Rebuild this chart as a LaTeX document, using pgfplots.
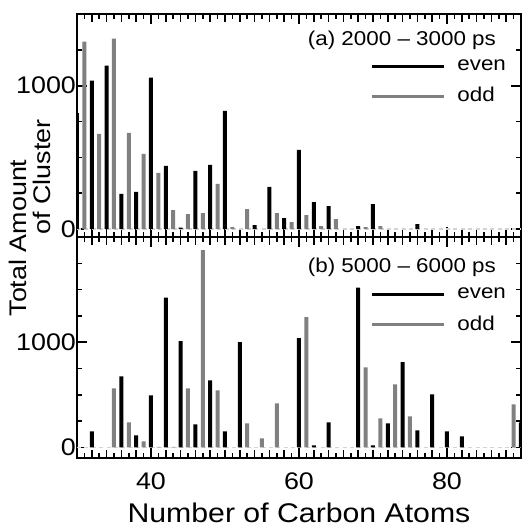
\documentclass[border=0pt]{standalone}
\usepackage{fontspec}
\setmainfont{Liberation Sans}[FakeStretch=1.12]
\usepackage{pgfplots}
\pgfplotsset{compat=1.18}
\definecolor{oddgray}{HTML}{808080}
\definecolor{zerogray}{HTML}{D4D4D4}

\pgfplotsset{
  panel/.style={
    width=222pt, scale only axis,
    xmin=30, xmax=90,
    axis line style={black, line width=1pt},
    tick style={black, line width=0.8pt},
    tick align=inside,
    major tick length=5pt, minor tick length=2.5pt,
    xtick={40,60,80}, minor xtick={31,33,...,89},
    extra x ticks={30,32,...,90}, extra x tick labels={},
    extra x tick style={major tick length=3.8pt},
    ytick={0,1000}, minor ytick={250,500,750,1250,1500,1750},
    tick label style={font=\fontsize{12}{14}\selectfont},
    yticklabel style={xshift=3pt},
    xticklabel style={yshift=-4pt},
    /pgf/number format/assume math mode=true,
    /pgf/number format/1000 sep={},
    legend style={draw=none, fill=none, font=\fontsize{10}{12}\selectfont,
                  inner sep=0pt, row sep=3pt, column sep=4pt, cells={anchor=west}},
    legend cell align=left,
  },
  evenbar/.style={ybar, bar shift=0pt, bar width=2pt, fill=black, draw=none},
  oddbar/.style={ybar, bar shift=0pt, bar width=2pt, fill=oddgray, draw=none},
  zeroline/.style={draw=zerogray, line width=0.8pt, dash pattern=on 2pt off 1.69pt, forget plot},
  legline/.style={legend image code/.code={\draw[##1] (0pt,0pt) -- (36pt,0pt);}},
}

\begin{document}
\begin{tikzpicture}

% (a) 2000 - 3000 ps
\begin{axis}[panel, at={(0,110.5pt)}, anchor=south west, height=111.5pt,
  ymin=-55, ymax=1500, xticklabels={},
  legend style={at={(axis description cs:0.976,0.815)}, anchor=north east}]
\addplot[zeroline] coordinates {(30,0) (90,0)};
\addplot[evenbar, forget plot] coordinates {
  (30,808) (32,1035) (34,1140) (36,245) (38,259) (40,1056) (42,441) (44,10)
  (46,406) (48,448) (50,825) (54,28) (56,294) (58,77) (60,552) (62,189)
  (64,161) (68,21) (70,175) (76,35) };
\addplot[oddbar, forget plot] coordinates {
  (31,1308) (33,664) (35,1329) (37,671) (39,524) (41,392) (43,133) (45,105)
  (47,112) (49,315) (51,14) (53,140) (57,112) (59,49) (61,98) (63,21)
  (65,70) (69,14) (71,21) };
\addlegendimage{legline, black, line width=1.5pt}
\addlegendentry{even}
\addlegendimage{legline, oddgray, line width=1.5pt}
\addlegendentry{odd}
\node[anchor=east, font=\fontsize{10}{12}\selectfont] at ([xshift=-9pt,yshift=-13pt]rel axis cs:1,1) {(a) 2000 – 3000 ps};
\end{axis}

% (b) 5000 - 6000 ps
\begin{axis}[panel, at={(0,0)}, anchor=south west, height=110.5pt,
  ymin=-100, ymax=2000,
  xlabel={Number of Carbon Atoms},
  xlabel style={font=\fontsize{13.5}{15}\selectfont, yshift=0.5pt},
  legend style={at={(axis description cs:0.976,0.79)}, anchor=north east}]
\addplot[zeroline] coordinates {(30,0) (90,0)};
\addplot[evenbar, forget plot] coordinates {
  (32,152) (36,676) (38,114) (40,495) (42,1423) (44,1010) (46,219) (48,638)
  (50,152) (52,1000) (60,1038) (62,19) (64,238) (68,1518) (70,19) (72,229)
  (74,810) (76,162) (78,505) (80,152) (82,105) (90,238) };
\addplot[oddbar, forget plot] coordinates {
  (35,562) (37,238) (39,57) (41,5) (43,5) (45,562) (47,1875) (49,543)
  (53,229) (55,86) (57,419) (61,1238) (69,762) (71,276) (73,600) (75,295)
  (89,410) };
\addlegendimage{legline, black, line width=1.5pt}
\addlegendentry{even}
\addlegendimage{legline, oddgray, line width=1.5pt}
\addlegendentry{odd}
\node[anchor=east, font=\fontsize{10}{12}\selectfont] at ([xshift=-9pt,yshift=-15pt]rel axis cs:1,1) {(b) 5000 – 6000 ps};
\end{axis}

\node[rotate=90, font=\fontsize{12}{14}\selectfont] at (-29.5pt,110pt) {Total Amount};
\node[rotate=90, font=\fontsize{12}{14}\selectfont] at (-17.5pt,140.5pt) {of Cluster};

\pgfresetboundingbox
\useasboundingbox (-38.5pt,-33.5pt) rectangle (222pt,229pt);
\end{tikzpicture}
\end{document}
